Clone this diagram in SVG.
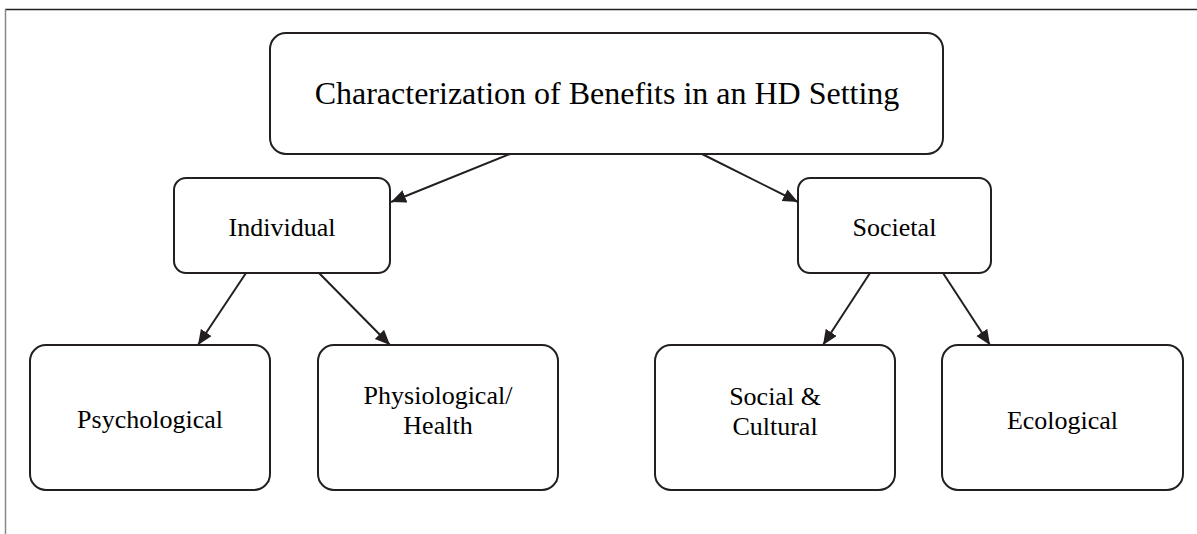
<svg xmlns="http://www.w3.org/2000/svg" width="1197" height="534" viewBox="0 0 1197 534">
<style>
.box{fill:#fff;stroke:#231f20;stroke-width:2}
.t{font-family:"Liberation Serif","Times New Roman",serif;font-size:26px;fill:#000;text-anchor:middle}
.title{font-size:32px}
.c{stroke:#231f20;stroke-width:2;fill:none;marker-end:url(#ah)}
</style>
<defs>
<marker id="ah" markerUnits="userSpaceOnUse" markerWidth="16" markerHeight="14" refX="15" refY="6.5" orient="auto">
<path d="M0,0 L15,6.5 L0,13 z" fill="#231f20"/>
</marker>
</defs>
<rect width="1197" height="534" fill="#fff"/>
<line x1="5" y1="9.5" x2="1197" y2="9.5" stroke="#231f20" stroke-width="1.5"/>
<line x1="5.5" y1="9" x2="5.5" y2="534" stroke="#888" stroke-width="1.5"/>
<g id="connectors">
<line class="c" x1="510" y1="154" x2="391" y2="202"/>
<line class="c" x1="702" y1="154" x2="798" y2="202"/>
<line class="c" x1="246" y1="273" x2="198" y2="345"/>
<line class="c" x1="319" y1="273" x2="390" y2="345"/>
<line class="c" x1="870" y1="273" x2="823" y2="345"/>
<line class="c" x1="943" y1="273" x2="990" y2="345"/>
</g>
<g id="root">
<rect class="box" x="270" y="33" width="673" height="121" rx="16"/>
<text class="t title" x="607" y="104">Characterization of Benefits in an HD Setting</text>
</g>
<g id="individual">
<rect class="box" x="174" y="178" width="216" height="95" rx="12"/>
<text class="t" x="282" y="236">Individual</text>
</g>
<g id="societal">
<rect class="box" x="798" y="178" width="193" height="95" rx="12"/>
<text class="t" x="894.5" y="236">Societal</text>
</g>
<g id="psychological">
<rect class="box" x="30" y="345" width="240" height="145" rx="16"/>
<text class="t" x="150" y="428">Psychological</text>
</g>
<g id="physiological">
<rect class="box" x="318" y="345" width="240" height="145" rx="16"/>
<text class="t" x="438" y="404">Physiological/</text>
<text class="t" x="438" y="434">Health</text>
</g>
<g id="social">
<rect class="box" x="655" y="345" width="240" height="145" rx="16"/>
<text class="t" x="775" y="405">Social &amp;</text>
<text class="t" x="775" y="435">Cultural</text>
</g>
<g id="ecological">
<rect class="box" x="942" y="345" width="241" height="145" rx="16"/>
<text class="t" x="1062.5" y="429">Ecological</text>
</g>
</svg>
